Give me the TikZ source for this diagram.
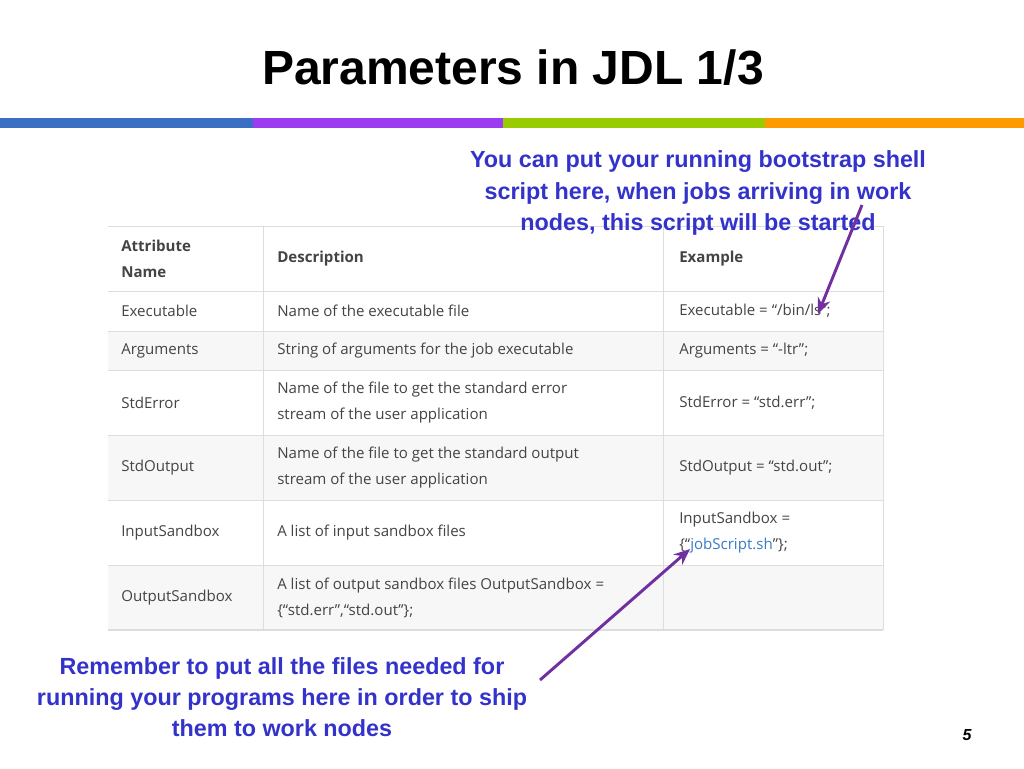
\documentclass[tikz,border=0pt]{standalone}
\usetikzlibrary{arrows.meta}
\usepackage{fontspec}
\setmainfont{Liberation Sans}
\newfontfamily\tabfont{Open Sans}
\definecolor{tblue}{HTML}{3333CC}
\definecolor{arr}{HTML}{7030A0}
\definecolor{grid}{HTML}{DDDDDD}
\definecolor{alt}{HTML}{F7F7F7}
\definecolor{tx}{HTML}{444444}
\definecolor{lnk}{HTML}{3A7BC8}
\definecolor{sb}{HTML}{3A6FC4}
\definecolor{sp}{HTML}{9B3CF0}
\definecolor{sg}{HTML}{99CC00}
\definecolor{so}{HTML}{FF9900}
\begin{document}
\begin{tikzpicture}[x=0.75pt,y=-0.75pt,
  cell/.style={anchor=west,inner sep=0pt,text=tx,font=\tabfont\fontsize{11.3}{19.5}\selectfont,align=left},
  hcell/.style={cell,font=\tabfont\bfseries\fontsize{11.3}{19.5}\selectfont},
  note/.style={text=tblue,font=\bfseries\fontsize{17.5}{23.3}\selectfont,align=center,inner sep=0pt},
  pointer/.style={arr,line width=2.2pt,-{Stealth[length=12pt,width=10pt]}}]
\useasboundingbox (0,0) rectangle (1024,768);
\fill[white] (0,0) rectangle (1024,768);
\node[font=\bfseries\fontsize{36}{40}\selectfont,inner sep=0pt] (title) at (513,68) {Parameters in JDL 1/3};
\fill[sb] (0,118) rectangle (253,128);
\fill[sp] (253,118) rectangle (503,128);
\fill[sg] (503,118) rectangle (765,128);
\fill[so] (765,118) rectangle (1024,128);
% table
\fill[alt] (108,331) rectangle (883,370);
\fill[alt] (108,435) rectangle (883,500);
\fill[alt] (108,565) rectangle (883,630);
\foreach \y in {226,291,331,370,435,500,565} \draw[grid] (108,\y) -- (883,\y);
\draw[grid,line width=1.5pt] (108,630) -- (883,630);
\foreach \x in {263,663,883} \draw[grid] (\x,226) -- (\x,630);
\node[hcell] (h1) at (121,259) {Attribute\\Name};
\node[hcell] (h2) at (277,259) {Description};
\node[hcell] (h3) at (679,259) {Example};
\node[cell] (a1) at (121,311) {Executable};
\node[cell] (d1) at (277,311) {Name of the executable file};
\node[cell] (e1) at (679,311) {Executable = “/bin/ls”;};
\node[cell] (a2) at (121,351) {Arguments};
\node[cell] (d2) at (277,351) {String of arguments for the job executable};
\node[cell] (e2) at (679,351) {Arguments = “-ltr”;};
\node[cell] (a3) at (121,403) {StdError};
\node[cell] (d3) at (277,403) {Name of the file to get the standard error\\stream of the user application};
\node[cell] (e3) at (679,403) {StdError = “std.err”;};
\node[cell] (a4) at (121,468) {StdOutput};
\node[cell] (d4) at (277,468) {Name of the file to get the standard output\\stream of the user application};
\node[cell] (e4) at (679,468) {StdOutput = “std.out”;};
\node[cell] (a5) at (121,533) {InputSandbox};
\node[cell] (d5) at (277,533) {A list of input sandbox files};
\node[cell] (e5) at (679,533) {InputSandbox =\\\{“\textcolor{lnk}{jobScript.sh}”\};};
\node[cell] (a6) at (121,598) {OutputSandbox};
\node[cell] (d6) at (277,598) {A list of output sandbox files OutputSandbox =\\\{“std.err”,“std.out”\};};
% notes
\node[note] (n1) at (698,193) {You can put your running bootstrap shell\\script here, when jobs arriving in work\\nodes, this script will be started};
\node[note] (n2) at (282,697) {Remember to put all the files needed for\\running your programs here in order to ship\\them to work nodes};
\coordinate (s1) at (862,205);
\coordinate (t1) at (818,314);
\coordinate (s2) at (540,680);
\coordinate (t2) at (690,549);
\draw[pointer] (s1) -- (t1);
\draw[pointer] (s2) -- (t2);
\node[font=\bfseries\itshape\fontsize{12}{14}\selectfont,inner sep=0pt] (pg) at (967,735) {5};
\end{tikzpicture}
\end{document}
